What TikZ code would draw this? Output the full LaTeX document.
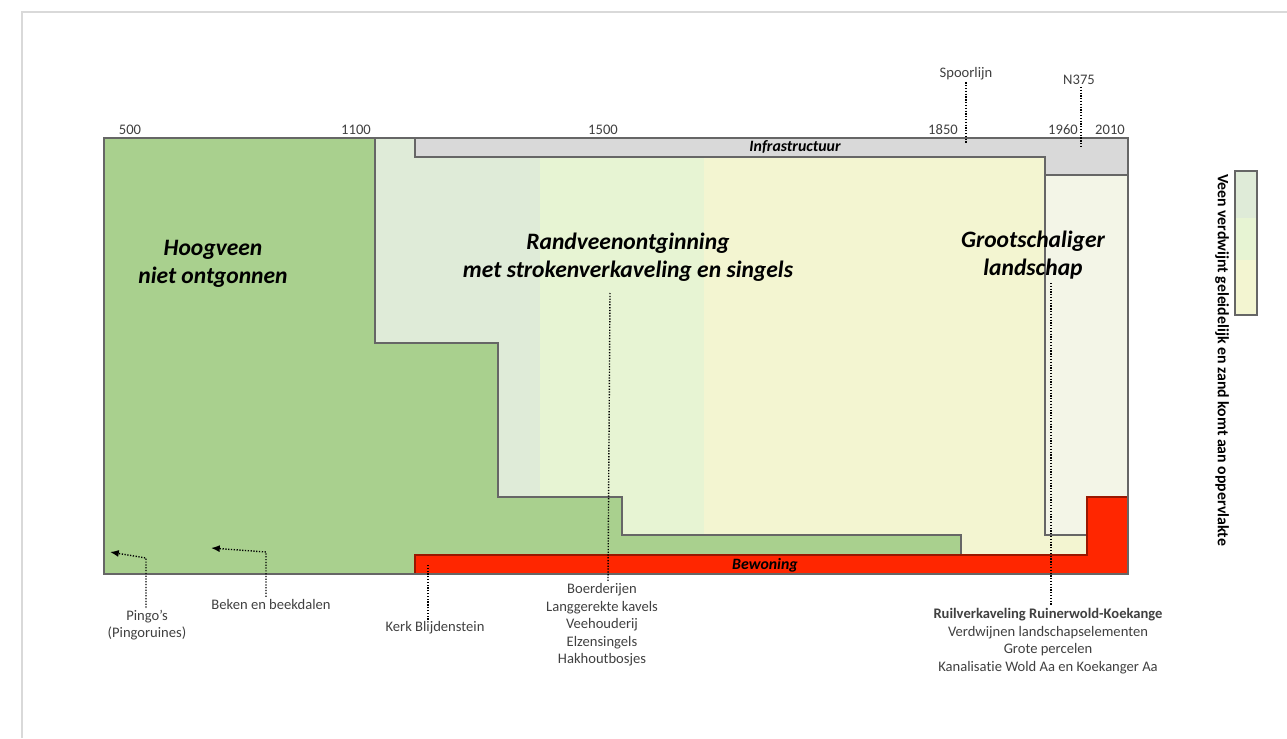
\documentclass[tikz,border=0pt]{standalone}
\usepackage{fontspec}
\setmainfont{Carlito}[Ligatures={NoCommon}]
\usepackage{xcolor}
\usetikzlibrary{arrows.meta, positioning}

\definecolor{veengreen}{HTML}{A9D08E}
\definecolor{bandone}{HTML}{DFEBD8}
\definecolor{bandtwo}{HTML}{E7F4D3}
\definecolor{bandthree}{HTML}{F3F5D1}
\definecolor{palebox}{HTML}{F3F5E7}
\definecolor{infgrey}{HTML}{D9D9D9}
\definecolor{bewred}{HTML}{FF2600}
\definecolor{edgegrey}{HTML}{666666}
\definecolor{labelgrey}{HTML}{404040}

\tikzset{
  yearlabel/.style={font=\fontsize{8.3}{10}\selectfont, text=labelgrey, inner sep=1pt},
  note/.style={font=\fontsize{8.3}{10}\selectfont, text=labelgrey, align=center, inner sep=1pt},
  bignote/.style={font=\fontsize{13.4}{16}\selectfont\bfseries\itshape, align=center},
  barlabel/.style={font=\fontsize{9}{10}\selectfont\bfseries\itshape, inner sep=1pt},
  dotline/.style={dash pattern=on 0.7pt off 0.9pt, line width=0.8pt},
  outline/.style={draw=edgegrey, line width=0.6pt}
}

\begin{document}
\begin{tikzpicture}[x=0.02cm, y=0.02cm]
        \useasboundingbox (0,0) rectangle (1287,738);
        % page frame
        \draw[black!15, line width=0.8pt] (22,0) -- (22,726) -- (1287,726);

        % periods
        \fill[veengreen] (104,164) rectangle (1128,600);
        \fill[bandone] (375,183) rectangle (540,600);
        \fill[bandtwo] (540,183) rectangle (704,600);
        \fill[bandthree] (704,183) rectangle (1087,600);
        \fill[palebox] (1045,203) rectangle (1128,600);
        \fill[veengreen] (104,164) -- (104,600) -- (375,600) -- (375,395) -- (498,395)
          -- (498,241) -- (622,241) -- (622,203) -- (961,203) -- (961,164) -- cycle;
        \draw[outline] (375,600) -- (375,395) -- (498,395) -- (498,241) -- (622,241)
          -- (622,203) -- (961,203) -- (961,183);
        \draw[outline] (1045,581) -- (1045,203) -- (1087,203);

        % infrastructuur en bewoning
        \filldraw[fill=infgrey, outline] (415,600) -- (1128,600) -- (1128,563) -- (1045,563)
          -- (1045,581) -- (415,581) -- cycle;
        \filldraw[fill=bewred, draw=bewred!60!black, line width=0.6pt] (415,183) -- (1087,183)
          -- (1087,241) -- (1128,241) -- (1128,164) -- (415,164) -- cycle;
        \draw[outline] (104,164) rectangle (1128,600);

        \node[barlabel] (infra) at (795,591) {Infrastructuur};
        \node[barlabel] (bewoning) at (765,173) {Bewoning};

        % jaartallen
        \begin{scope}[every node/.style={yearlabel}]
          \node (y500) at (130,608) {500};
          \node (y1100) at (356,608) {1100};
          \node (y1500) at (603,608) {1500};
          \node (y1850) at (943,608) {1850};
          \node (y1960) at (1063,608) {1960};
          \node (y2010) at (1110,608) {2010};
          \node (spoor) at (966,664) {Spoorlijn};
          \node (nweg) at (1079,658) {N375};
        \end{scope}

        % landschappen
        \node[bignote] (hoogveen) at (213,474) {Hoogveen\\niet ontgonnen};
        \node[bignote] (randveen) at (628,481) {Randveenontginning\\met strokenverkaveling en singels};
        \node[bignote] (groot) at (1033,483) {Grootschaliger\\landschap};

        % kenmerken
        \node[note] (pingo) at (147,113) {Pingo's\\(Pingoruines)};
        \node[note] (beken) at (271,134) {Beken en beekdalen};
        \node[note] (kerk) at (435,110) {Kerk Blijdenstein};
        \node[note] (boerderij) at (602,113) {Boerderijen\\Langgerekte kavels\\Veehouderij\\Elzensingels\\Hakhoutbosjes};
        \node[note] (ruil) at (1048,97) {\textbf{Ruilverkaveling Ruinerwold-Koekange}\\Verdwijnen landschapselementen\\Grote percelen\\Kanalisatie Wold Aa en Koekanger Aa};

        \coordinate (pingoend) at (110,186);
        \coordinate (bekenend) at (211,190);
        \coordinate (kerkend) at (428,173);
        \coordinate (randend) at (610,445);
        \coordinate (grootend) at (1051,455);
        \coordinate (spoorend) at (966,595);
        \coordinate (nwegend) at (1081,590);

        \begin{scope}[every path/.style={dotline}]
          \draw[-{Latex[length=5pt,width=4pt]}] (pingo.north -| 146,0) -- (146,180) -- (pingoend);
          \draw[-{Latex[length=5pt,width=4pt]}] (beken.north -| 266,0) -- (266,186) -- (bekenend);
          \draw (kerk.north -| kerkend) -- (kerkend);
          \draw (randend) -- (boerderij.north -| 608,0);
          \draw (grootend) -- (ruil.north -| grootend);
          \draw (spoor.south) -- (spoorend);
          \draw (nweg.south -| nwegend) -- (nwegend);
        \end{scope}

        % legenda
        \fill[bandone] (1235,520) rectangle (1257,567);
        \fill[bandtwo] (1235,478) rectangle (1257,520);
        \fill[bandthree] (1235,423) rectangle (1257,478);
        \draw[outline] (1235,423) rectangle (1257,567);
        \node[font=\fontsize{9}{10}\selectfont\bfseries, rotate=-90] (legenda) at (1222,378)
          {Veen verdwijnt geleidelijk en zand komt aan oppervlakte};
      \end{tikzpicture}
\end{document}
